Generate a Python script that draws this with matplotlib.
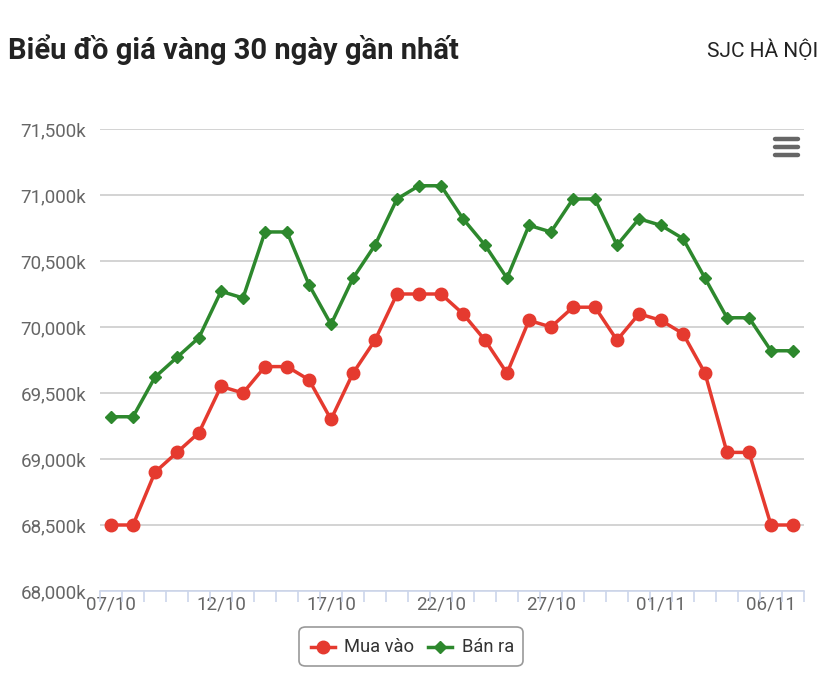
import matplotlib.pyplot as plt
from matplotlib.patches import FancyBboxPatch
from matplotlib.lines import Line2D

# ngay (07/10 -> 07/11)
dates = ['07/10', '08/10', '09/10', '10/10', '11/10', '12/10', '13/10', '14/10',
         '15/10', '16/10', '17/10', '18/10', '19/10', '20/10', '21/10', '22/10',
         '23/10', '24/10', '25/10', '26/10', '27/10', '28/10', '29/10', '30/10',
         '31/10', '01/11', '02/11', '03/11', '04/11', '05/11', '06/11', '07/11']

mua_vao = [68500, 68500, 68900, 69050, 69200, 69550, 69500, 69700,
           69700, 69600, 69300, 69650, 69900, 70250, 70250, 70250,
           70100, 69900, 69650, 70050, 70000, 70150, 70150, 69900,
           70100, 70050, 69950, 69650, 69050, 69050, 68500, 68500]

ban_ra = [69320, 69320, 69620, 69770, 69920, 70270, 70220, 70720,
          70720, 70320, 70020, 70370, 70620, 70970, 71070, 71070,
          70820, 70620, 70370, 70770, 70720, 70970, 70970, 70620,
          70820, 70770, 70670, 70370, 70070, 70070, 69820, 69820]

yticks = [68000, 68500, 69000, 69500, 70000, 70500, 71000, 71500]

red = '#e53a2f'
green = '#2d882d'
W, H = 826, 681

plt.rcParams['font.family'] = ['Roboto', 'DejaVu Sans']

fig = plt.figure(figsize=(8.26, 6.81), dpi=100)
ax = fig.add_axes([100 / W, (H - 591) / H, 704 / W, (591 - 129) / H])

x = list(range(len(dates)))
ax.plot(x, mua_vao, color=red, lw=2.5, marker='o', ms=9, zorder=3)
ax.plot(x, ban_ra, color=green, lw=2.5, marker='D', ms=6.5, zorder=3)

ax.set_xlim(-0.5, len(dates) - 0.5)
ax.set_ylim(68000, 71500)
ax.set_yticks(yticks)
ax.set_yticklabels(['{:,}k'.format(v) for v in yticks], fontsize=13.5, color='#666666')
ax.yaxis.grid(True, color='#cccccc', lw=1.2)
ax.set_axisbelow(True)
ax.tick_params(axis='y', length=0, pad=10)

ax.set_xticks([i for i in x if i % 5 == 0])
ax.set_xticklabels([dates[i] for i in x if i % 5 == 0], fontsize=13.5, color='#666666')
ax.set_xticks([i - 0.5 for i in x] + [len(x) - 0.5], minor=True)
ax.tick_params(axis='x', which='major', length=0, pad=3)
ax.tick_params(axis='x', which='minor', length=8, color='#ccd6eb', width=1.2)

for s in ['top', 'right', 'left']:
    ax.spines[s].set_visible(False)
ax.spines['bottom'].set_color('#ccd6eb')
ax.spines['bottom'].set_linewidth(1.2)

fig.text(8 / W, 1 - 50 / H, 'Biểu đồ giá vàng 30 ngày gần nhất', fontsize=21,
         fontweight='bold', color='#222222', va='center', ha='left')
fig.text(818 / W, 1 - 50 / H, 'SJC HÀ NỘI', fontsize=15, color='#222222',
         va='center', ha='right')

# menu icon
for yy in [139, 147, 155]:
    fig.add_artist(Line2D([775 / W, 798 / W], [1 - yy / H, 1 - yy / H],
                          color='#666666', lw=3.2, solid_capstyle='round'))

# legend
box = FancyBboxPatch((299 / W, 1 - 666 / H), 224 / W, 39 / H,
                     boxstyle='round,pad=0,rounding_size=0.008',
                     transform=fig.transFigure, fc='white', ec='#999999', lw=1.2)
fig.add_artist(box)
ly = 1 - 647 / H
fig.add_artist(Line2D([311 / W, 335 / W], [ly, ly], color=red, lw=2.5))
fig.add_artist(Line2D([323 / W], [ly], color=red, marker='o', ms=9))
fig.text(344 / W, ly, 'Mua vào', fontsize=13.2, color='#333333', va='center')
fig.add_artist(Line2D([428 / W, 452 / W], [ly, ly], color=green, lw=2.5))
fig.add_artist(Line2D([440 / W], [ly], color=green, marker='D', ms=6.5))
fig.text(462 / W, ly, 'Bán ra', fontsize=13.2, color='#333333', va='center')

fig.savefig('out.png', dpi=100)
